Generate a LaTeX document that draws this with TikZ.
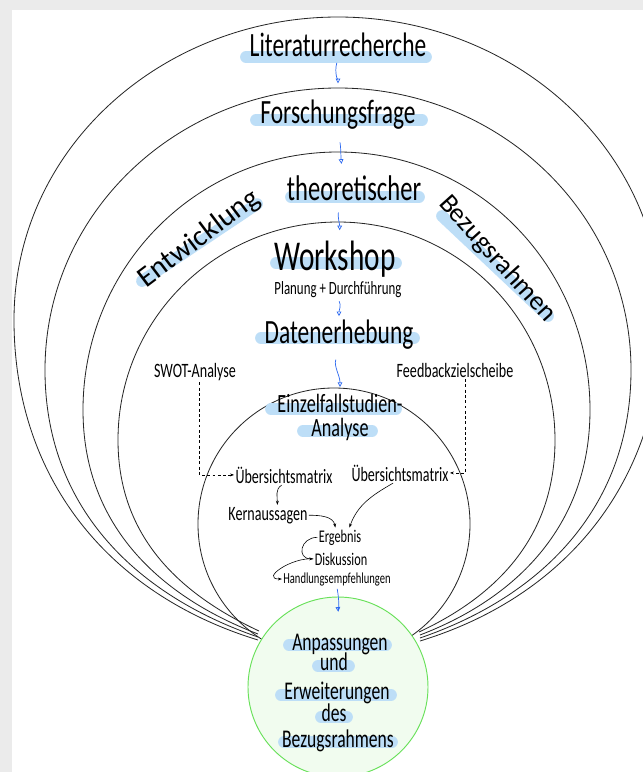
\documentclass[tikz,border=0pt]{standalone}
\usepackage{fontspec}
\setmainfont{Carlito}
\usetikzlibrary{arrows.meta}
\definecolor{hlblue}{RGB}{189,222,247}
\definecolor{flowblue}{RGB}{45,105,240}
\definecolor{goalline}{RGB}{105,225,90}
\definecolor{goalfill}{RGB}{241,252,239}
\definecolor{pagegray}{RGB}{235,235,235}

\begin{document}
\begin{tikzpicture}[x=0.03cm,y=-0.03cm,
    txt/.style={font=\fontsize{#1}{#1}\selectfont,anchor=base,inner sep=1pt,yscale=1.45},
    rtxt/.style={font=\fontsize{#1}{#1}\selectfont,inner sep=1pt},
    ring/.style={line width=0.7pt,black!85},
    goal/.style={circle,draw=goalline,fill=goalfill,line width=0.8pt,minimum size=5.4cm,inner sep=0pt},
    hl/.style={line width=10pt,line cap=round,hlblue},
    flow/.style={-{Triangle[open,length=4pt,width=4pt]},flowblue,line width=0.6pt},
    link/.style={-{Stealth[length=3.5pt,width=2.5pt]},line width=0.5pt},
    dashlink/.style={link,dash pattern=on 2.5pt off 2pt}]
  \useasboundingbox (0,0) rectangle (643,772);
  \fill[pagegray] (0,0) rectangle (643,772);
  \fill[white] (12,10) rectangle (643,772);

  \draw[ring] (258,640) to[out=163,in=-90] (14,320) to[out=90,in=180] (338,17)
    to[out=0,in=90] (662,320) to[out=-90,in=17] (420,641);
  \draw[ring] (258,637) to[out=161,in=-90] (45,370) to[out=90,in=180] (338,88)
    to[out=0,in=90] (631,370) to[out=-90,in=19] (420,638);
  \draw[ring] (258,634) to[out=159,in=-90] (83,410) to[out=90,in=180] (338,152)
    to[out=0,in=90] (590,410) to[out=-90,in=21] (420,635);
  \draw[ring] (259,631) to[out=155,in=-90] (118,440) to[out=90,in=180] (338,222)
    to[out=0,in=90] (555,440) to[out=-90,in=25] (419,632);
  \draw[ring] (334,524) circle [radius=136];

  \draw (338,687) node[goal] (goal) {};

  \draw[hl] (246,57) -- (426,57);
  \draw[hl] (256,120) -- (422,120);
  \draw[hl] (291,197) -- (419,197);
  \draw[hl] (142,281) -- (257,204);
  \draw[hl] (442,216) -- (548,316);
  \draw[hl] (276,263) -- (396,263);
  \draw[hl] (261,338) -- (414,338);
  \draw[hl] (271,409) -- (396,409);
  \draw[hl] (303,431) -- (372,431);
  \draw[hl] (289,645) -- (386,645);
  \draw[hl] (318,666) -- (349,666);
  \draw[hl] (281,695) -- (391,695);
  \draw[hl] (321,717) -- (347,717);
  \draw[hl] (284,742) -- (392,742);

  \draw (338,56) node[txt=20pt] (lit) {Literaturrecherche};
  \draw (338,123) node[txt=20pt] (frage) {Forschungsfrage};
  \draw (354,200) node[txt=21pt] (theo) {theoretischer};
  \draw (199,239) node[rtxt=25pt,rotate=37] (entw) {Entwicklung};
  \draw (497,259) node[rtxt=23pt,rotate=-48] (bezug) {Bezugsrahmen};
  \draw (335,270) node[txt=25pt] (work) {Workshop};
  \draw (338,294) node[txt=11pt] (plan) {Planung + Durchführung};
  \draw (339,343) node[txt=20pt] (daten) {Datenerhebung};
  \draw (195,377) node[txt=12pt] (swot) {SWOT-Analyse};
  \draw (455,377) node[txt=12pt] (fb) {Feedbackzielscheibe};
  \draw (340,412) node[txt=15.5pt] (einz) {Einzelfallstudien-};
  \draw (340,436) node[txt=15.5pt] (ana) {Analyse};
  \draw (284,483) node[txt=12pt] (ueba) {Übersichtsmatrix};
  \draw (400,481) node[txt=12pt] (uebb) {Übersichtsmatrix};
  \draw (268,520) node[txt=12pt] (kern) {Kernaussagen};
  \draw (340,542) node[txt=10.5pt] (erg) {Ergebnis};
  \draw (341,565) node[txt=10.5pt] (disk) {Diskussion};
  \draw (337,583) node[txt=9pt] (handl) {Handlungsempfehlungen};
  \draw (340,650) node[txt=15pt] (anp) {Anpassungen};
  \draw (334,670) node[txt=15pt] (und) {und};
  \draw (337,699) node[txt=15pt] (erw) {Erweiterungen};
  \draw (334,721) node[txt=15pt] (des) {des};
  \draw (338,747) node[txt=15pt] (bzr) {Bezugsrahmens};

  \draw[flow,shorten <=4pt,shorten >=12pt] (lit.south) to[out=-105,in=90] (frage.north);
  \draw[flow,shorten <=10pt,shorten >=8pt] (frage.south) to[out=-80,in=95] ([xshift=-10pt]theo.north);
  \draw[flow,shorten <=9pt,shorten >=7pt] ([xshift=-11pt]theo.south) to[out=-105,in=90] ([xshift=4pt]work.north);
  \draw[flow,shorten <=2pt,shorten >=1pt] (plan.south) to[out=-60,in=90] (daten.north);
  \draw[flow,shorten <=8pt,shorten >=4pt] (daten.south) to[out=-110,in=90] (einz.north);
  \draw[flow,shorten <=1pt,shorten >=17pt] (handl.south) to[out=-80,in=95] (anp.north);

  \draw[dashlink] ([xshift=4pt]swot.south) |- (ueba.west);
  \draw[dashlink] ([xshift=8.5pt]fb.south) |- (uebb.east);

  \draw[link] ([xshift=-2pt]ueba.south) to[out=-150,in=90] ([xshift=8pt]kern.north);
  \draw[link] (kern.east) to[out=0,in=100] ([xshift=-4pt]erg.north);
  \draw[link] ([xshift=-6pt]uebb.south) to[out=-150,in=70] ([xshift=8pt]erg.north);
  \draw[link] (erg.west) to[out=180,in=180,looseness=2] (disk.west);
  \draw[link] (disk.west) to[out=175,in=180,looseness=1.5] (handl.west);
\end{tikzpicture}
\end{document}
